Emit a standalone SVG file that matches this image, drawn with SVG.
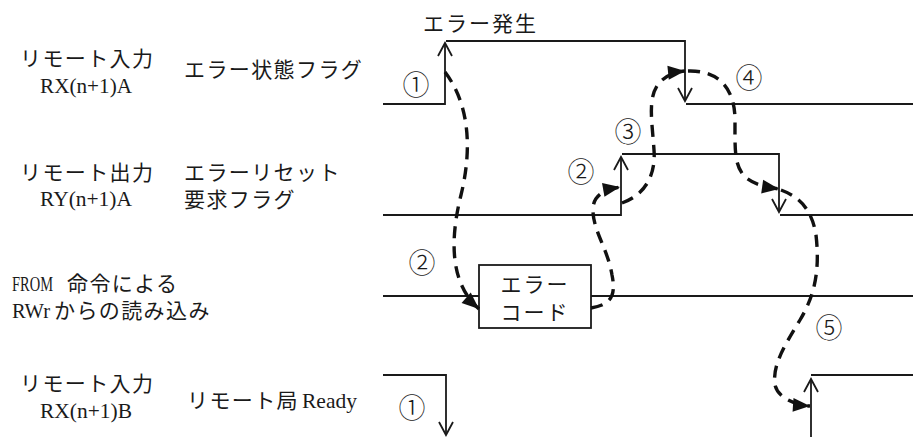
<svg xmlns="http://www.w3.org/2000/svg" width="913" height="437" viewBox="0 0 913 437">
<style>
text{font-family:"Liberation Serif","Noto Sans CJK JP",serif;font-size:21px;fill:#1a1a1a}
.jp{letter-spacing:1.4px}
.num{font-size:27px;text-anchor:middle;font-weight:300}
.sig{fill:none;stroke:#1a1a1a;stroke-width:1.8}
.dash{fill:none;stroke:#111;stroke-width:3.4;stroke-dasharray:12 8}
</style>
<defs>
<marker id="open" markerUnits="userSpaceOnUse" markerWidth="16" markerHeight="16" refX="13" refY="7" orient="auto" overflow="visible">
<path d="M0,0 L13,7 L0,14" fill="none" stroke="#1a1a1a" stroke-width="1.8"/>
</marker>
<marker id="fill" markerUnits="userSpaceOnUse" markerWidth="20" markerHeight="16" refX="17" refY="7" orient="auto" overflow="visible">
<path d="M0,0 L17,7 L0,14 z" fill="#111"/>
</marker>
</defs>

<g id="labels">
<text class="jp" x="20" y="66">リモート入力</text>
<text x="40" y="93" textLength="92" lengthAdjust="spacingAndGlyphs">RX(n+1)A</text>
<text class="jp" x="184" y="77">エラー状態フラグ</text>
<text class="jp" x="20" y="180">リモート出力</text>
<text x="40" y="206" textLength="92" lengthAdjust="spacingAndGlyphs">RY(n+1)A</text>
<text class="jp" x="184" y="180">エラーリセット</text>
<text class="jp" x="184" y="207">要求フラグ</text>
<text x="12" y="291" textLength="41" lengthAdjust="spacingAndGlyphs">FROM</text>
<text class="jp" x="67" y="291">命令による</text>
<text x="12" y="318" textLength="38" lengthAdjust="spacingAndGlyphs">RWr</text>
<text class="jp" x="54" y="318">からの読み込み</text>
<text class="jp" x="20" y="391">リモート入力</text>
<text x="40" y="418" textLength="92" lengthAdjust="spacingAndGlyphs">RX(n+1)B</text>
<text class="jp" x="187" y="408">リモート局</text>
<text x="302" y="408" textLength="55" lengthAdjust="spacingAndGlyphs">Ready</text>
<text class="jp" x="423" y="31" style="letter-spacing:2px">エラー発生</text>
</g>

<g id="signal-error-flag">
<path class="sig" d="M383 104 H445 V43" marker-end="url(#open)"/>
<path class="sig" d="M446 41 H685 V101" marker-end="url(#open)"/>
<path class="sig" d="M686 104 H913"/>
</g>

<g id="signal-reset-request">
<path class="sig" d="M383 215 H621 V157" marker-end="url(#open)"/>
<path class="sig" d="M622 154 H779 V212" marker-end="url(#open)"/>
<path class="sig" d="M780 215 H913"/>
</g>

<g id="signal-from">
<path class="sig" d="M383 296 H479"/>
<path class="sig" d="M591 296 H913"/>
</g>

<g id="error-code-box">
<rect class="sig" x="479" y="265" width="112" height="63"/>
<text class="jp" x="535" y="292" text-anchor="middle" style="letter-spacing:2px">エラー</text>
<text class="jp" x="535" y="320" text-anchor="middle" style="letter-spacing:2px">コード</text>
</g>

<g id="signal-ready">
<path class="sig" d="M383 375 H446 V435" marker-end="url(#open)"/>
<path class="sig" d="M811 437 V379" marker-end="url(#open)"/>
<path class="sig" d="M811 375 H913"/>
</g>

<g id="steps">
<text class="num" x="416" y="95">①</text>
<text class="num" x="581" y="182">②</text>
<text class="num" x="628" y="142">③</text>
<text class="num" x="749" y="88">④</text>
<text class="num" x="422" y="273">②</text>
<text class="num" x="829" y="338">⑤</text>
<text class="num" x="412" y="418">①</text>
</g>

<g id="connectors">
<path class="dash" d="M445 72 C470 105 472 150 461 195 C451 235 448 282 479 309" marker-end="url(#fill)"/>
<path class="dash" d="M591 308 C608 305 617 299 612 275 C608 250 594 232 593 212 C592 196 603 190 620 187" marker-end="url(#fill)"/>
<path class="dash" d="M622 203 C645 195 656 175 654 150 C652 120 647 96 660 82 C667 75 675 72 685 71" marker-end="url(#fill)"/>
<path class="dash" d="M688 71 C715 70 735 85 735 120 C735 150 734 165 745 177 C755 185 765 187 779 189" marker-end="url(#fill)"/>
<path class="dash" d="M781 190 C800 197 812 210 816 235 C820 270 815 295 800 320 C785 345 772 365 775 385 C778 398 795 405 810 406" marker-end="url(#fill)"/>
</g>
</svg>
